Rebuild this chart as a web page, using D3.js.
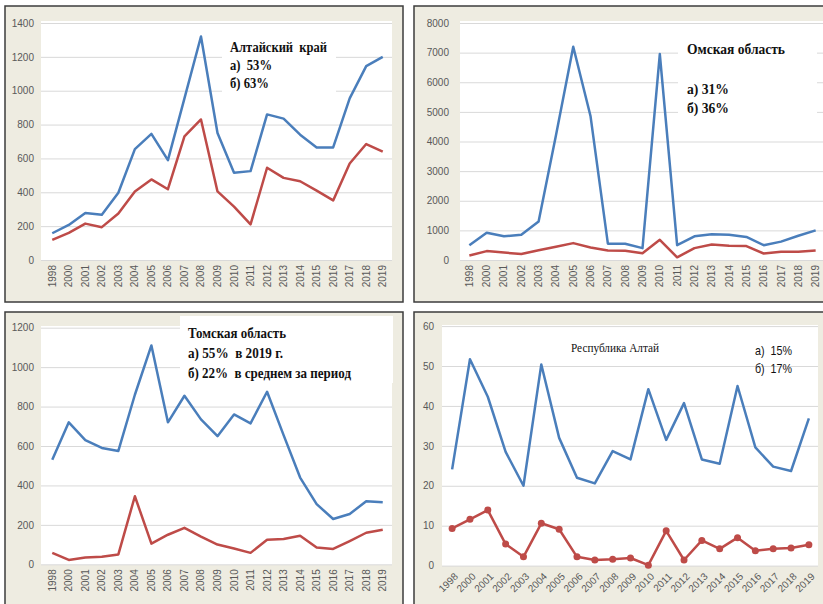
<!DOCTYPE html>
<html>
<head>
<meta charset="UTF-8">
<title>Четыре региона</title>
<style>
  body { margin: 0; background: #fff; }
  svg { display: block; }
  .tick text { font-family: "Liberation Sans", Arial, sans-serif; font-size: 10px; fill: #595959; }
  .grid line { stroke: #d9d9d9; stroke-width: 1; }
  .note { font-family: "Liberation Serif", "Times New Roman", serif; fill: #111; white-space: pre; }
</style>
</head>
<body>
<script src="https://cdn.jsdelivr.net/npm/d3@7"></script>
<script>
// categories (1999 is missing in the source)
const years = ["1998", "2000", "2001", "2002", "2003", "2004", "2005", "2006", "2007", "2008",
  "2009", "2010", "2011", "2012", "2013", "2014", "2015", "2016", "2017", "2018", "2019"];

// Алтайский край
const altaiKraiBlue = [158, 207, 278, 267, 397, 655, 745, 590, 955, 1320, 750, 515, 525, 860, 835, 740, 665, 665, 955, 1145, 1200];
const altaiKraiRed  = [119, 160, 215, 194, 275, 405, 476, 418, 730, 830, 405, 315, 210, 545, 485, 465, 410, 352, 570, 685, 640];
const altaiKraiTicks = [0, 200, 400, 600, 800, 1000, 1200, 1400];

// Омская область
const omskBlue = [500, 920, 800, 850, 1300, 4200, 7200, 4850, 550, 550, 400, 6950, 500, 800, 870, 850, 780, 500, 620, 820, 1000];
const omskRed  = [150, 300, 250, 200, 330, 450, 570, 420, 320, 310, 230, 680, 90, 400, 520, 480, 470, 220, 280, 280, 320];
const omskTicks = [0, 1000, 2000, 3000, 4000, 5000, 6000, 7000, 8000];

// Томская область
const tomskBlue = [530, 720, 630, 590, 575, 860, 1110, 720, 855, 735, 650, 760, 715, 875, 655, 440, 305, 230, 255, 320, 315];
const tomskRed  = [58, 22, 35, 38, 50, 345, 105, 150, 185, 140, 100, 80, 58, 125, 128, 145, 85, 78, 118, 160, 175];
const tomskTicks = [0, 200, 400, 600, 800, 1000, 1200];

// Республика Алтай
const altaiRepBlue = [24.1, 51.7, 42.3, 28.5, 20, 50.4, 32, 22, 20.6, 28.7, 26.6, 44.2, 31.5, 40.7, 26.6, 25.5, 45, 29.6, 24.8, 23.7, 36.9];
const altaiRepRed  = [9.3, 11.6, 13.9, 5.4, 2.2, 10.6, 9.1, 2.2, 1.4, 1.6, 1.9, 0.1, 8.7, 1.4, 6.3, 4.2, 7.0, 3.7, 4.2, 4.4, 5.2];
const altaiRepTicks = [0, 10, 20, 30, 40, 50, 60];

const blue = "#4a7ebb", red = "#be4b48";

const svg = d3.select("body").append("svg")
  .attr("width", 823)
  .attr("height", 604);

function panel(cfg) {
  // chart area
  svg.append("rect")
    .attr("x", cfg.frame[0]).attr("y", cfg.frame[1])
    .attr("width", cfg.frame[2]).attr("height", cfg.frame[3])
    .attr("fill", "#eeece1")
    .attr("stroke", "#3c3c3c")
    .attr("stroke-width", 1.5);

  // plot area
  svg.append("rect")
    .attr("x", cfg.plot[0]).attr("y", cfg.plot[1])
    .attr("width", cfg.plot[2] - cfg.plot[0]).attr("height", cfg.plot[3] - cfg.plot[1])
    .attr("fill", "#fff");

  let x = d3.scaleBand().domain(years).range(cfg.xr);
  let y = d3.scaleLinear().domain([0, cfg.ticks[cfg.ticks.length - 1]]).range(cfg.yr);

  let g = svg.append("g")
    .attr("class", "grid")
    .attr("transform", "translate(" + cfg.plot[0] + ",0)")
    .call(d3.axisLeft(y)
      .tickValues(cfg.ticks)
      .tickFormat(d3.format("d"))
      .tickSize(-(cfg.plot[2] - cfg.plot[0]))
      .tickPadding(cfg.pad));
  g.select(".domain").remove();

  let xa = svg.append("g")
    .attr("transform", "translate(0," + cfg.yr[0] + ")")
    .call(d3.axisBottom(x).tickSize(0));
  xa.select(".domain").remove();
  if (cfg.slant) {
    xa.selectAll("text")
      .attr("x", 0).attr("y", 0).attr("dy", "0.35em")
      .attr("transform", "translate(4,9) rotate(-45)")
      .style("text-anchor", "end");
  } else {
    xa.selectAll("text")
      .attr("x", -5).attr("y", 0).attr("dy", "0.35em")
      .attr("transform", "rotate(-90)")
      .style("text-anchor", "end");
  }

  // text box
  if (cfg.box) {
    svg.append("rect")
      .attr("x", cfg.box[0]).attr("y", cfg.box[1])
      .attr("width", cfg.box[2]).attr("height", cfg.box[3])
      .attr("fill", "#fff");
  }
  cfg.notes.forEach(n => {
    let t = svg.append("text")
      .attr("class", "note")
      .attr("x", n.x).attr("y", n.y)
      .style("font-size", n.size + "px")
      .style("font-weight", n.bold ? "bold" : "normal")
      .text(n.text);
    if (n.sans) t.style("font-family", "'Liberation Sans', Arial, sans-serif");
    if (n.w) t.attr("textLength", n.w).attr("lengthAdjust", "spacingAndGlyphs");
  });

  let line = d3.line()
    .x((d, i) => x(years[i]) + x.bandwidth() / 2)
    .y(d => y(d));

  [[cfg.a, blue], [cfg.b, red]].forEach(s => {
    svg.append("path")
      .attr("d", line(s[0]))
      .attr("fill", "none")
      .attr("stroke", s[1])
      .attr("stroke-width", 2.5)
      .attr("stroke-linejoin", "round");
  });

  if (cfg.dots) {
    svg.append("g").selectAll("circle")
      .data(cfg.b)
      .enter().append("circle")
      .attr("cx", (d, i) => x(years[i]) + x.bandwidth() / 2)
      .attr("cy", d => y(d))
      .attr("r", 3.5)
      .attr("fill", red);
  }
}

panel({
  frame: [5, 6, 398, 296], plot: [41, 21, 392, 260],
  xr: [44, 391], yr: [260, 23], ticks: altaiKraiTicks, pad: 7,
  a: altaiKraiBlue, b: altaiKraiRed,
  box: [222, 28, 114, 72],
  notes: [
    {x: 230, y: 52, size: 15, bold: true, text: "Алтайский  край", w: 97},
    {x: 230, y: 70, size: 15, bold: true, text: "а)  53%", w: 42},
    {x: 230, y: 88, size: 15, bold: true, text: "б) 63%", w: 39}
  ]
});

panel({
  frame: [414, 6, 420, 296], plot: [460, 21, 826, 260],
  xr: [460.7, 824.3], yr: [260, 23], ticks: omskTicks, pad: 11,
  a: omskBlue, b: omskRed,
  box: [678, 30, 139, 105],
  notes: [
    {x: 687, y: 54, size: 15, bold: true, text: "Омская область", w: 98},
    {x: 687, y: 94, size: 15, bold: true, text: "а) 31%", w: 42},
    {x: 687, y: 113, size: 15, bold: true, text: "б) 36%", w: 42}
  ]
});

panel({
  frame: [5, 312, 398, 300], plot: [41, 326, 392, 565],
  xr: [44, 391], yr: [564.3, 327.7], ticks: tomskTicks, pad: 7,
  a: tomskBlue, b: tomskRed,
  box: [180, 316, 213, 67],
  notes: [
    {x: 188, y: 337.5, size: 15, bold: true, text: "Томская область", w: 98},
    {x: 188, y: 357.5, size: 15, bold: true, text: "а) 55%  в 2019 г.", w: 95},
    {x: 188, y: 377.5, size: 15, bold: true, text: "б) 22%  в среднем за период", w: 163}
  ]
});

panel({
  frame: [414, 312, 420, 300], plot: [442, 325, 818, 566],
  xr: [443.2, 817.8], yr: [565.6, 326.1], ticks: altaiRepTicks, pad: 8,
  a: altaiRepBlue, b: altaiRepRed, slant: true, dots: true,
  notes: [
    {x: 571, y: 352, size: 12.5, text: "Республика Алтай", w: 88},
    {x: 755, y: 355, size: 13, sans: true, text: "а)  15%", w: 37},
    {x: 755, y: 373, size: 13, sans: true, text: "б)  17%", w: 37}
  ]
});
</script>
</body>
</html>
